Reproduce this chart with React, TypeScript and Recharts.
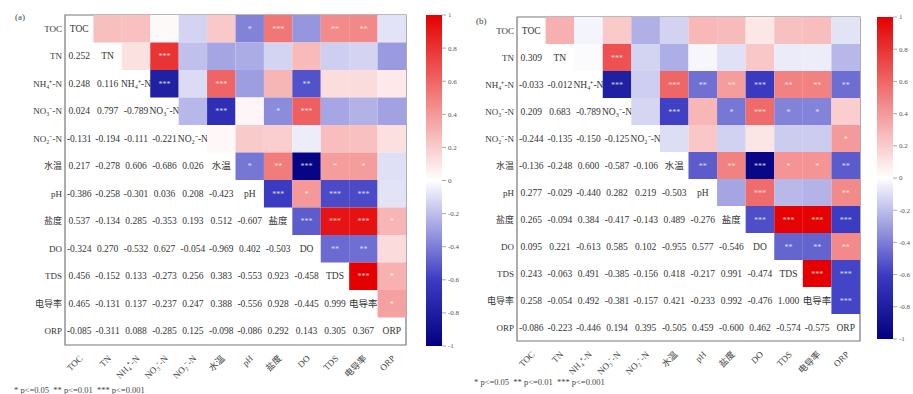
import React from 'react'
import { ScatterChart, Scatter, XAxis, YAxis, ReferenceArea, BarChart, Bar } from 'recharts'

const labels = ['TOC', 'TN', 'NH₄⁺-N', 'NO₃⁻-N', 'NO₂⁻-N', '水温', 'pH', '盐度', 'DO', 'TDS', '电导率', 'ORP']

// lower triangle, rows TN..ORP
const corrA = [
  [0.252],
  [0.248, 0.116],
  [0.024, 0.797, -0.789],
  [-0.131, -0.194, -0.111, -0.221],
  [0.217, -0.278, 0.606, -0.686, 0.026],
  [-0.386, -0.258, -0.301, 0.036, 0.208, -0.423],
  [0.537, -0.134, 0.285, -0.353, 0.193, 0.512, -0.607],
  [-0.324, 0.27, -0.532, 0.627, -0.054, -0.969, 0.402, -0.503],
  [0.456, -0.152, 0.133, -0.273, 0.256, 0.383, -0.553, 0.923, -0.458],
  [0.465, -0.131, 0.137, -0.237, 0.247, 0.388, -0.556, 0.928, -0.445, 0.999],
  [-0.085, -0.311, 0.088, -0.285, 0.125, -0.098, -0.086, 0.292, 0.143, 0.305, 0.367],
]
const sigA = [
  [''],
  ['', ''],
  ['', '***', '***'],
  ['', '', '', ''],
  ['', '', '***', '***', ''],
  ['*', '', '', '', '', '*'],
  ['***', '', '', '*', '', '**', '***'],
  ['', '', '**', '***', '', '***', '*', '***'],
  ['**', '', '', '', '', '*', '***', '***', '**'],
  ['**', '', '', '', '', '*', '***', '***', '**', '***'],
  ['', '', '', '', '', '', '', '*', '', '*', '*'],
]

const corrB = [
  [0.309],
  [-0.033, -0.012],
  [0.209, 0.683, -0.789],
  [-0.244, -0.135, -0.15, -0.125],
  [-0.136, -0.248, 0.6, -0.587, -0.106],
  [0.277, -0.029, -0.44, 0.282, 0.219, -0.503],
  [0.265, -0.094, 0.384, -0.417, -0.143, 0.489, -0.276],
  [0.095, 0.221, -0.613, 0.585, 0.102, -0.955, 0.577, -0.546],
  [0.243, -0.063, 0.491, -0.385, -0.156, 0.418, -0.217, 0.991, -0.474],
  [0.258, -0.054, 0.492, -0.381, -0.157, 0.421, -0.233, 0.992, -0.476, 1.0],
  [-0.086, -0.223, -0.446, 0.194, 0.395, -0.505, 0.459, -0.6, 0.462, -0.574, -0.575],
]
const sigB = [
  [''],
  ['', ''],
  ['', '***', '***'],
  ['', '', '', ''],
  ['', '', '***', '***', ''],
  ['', '', '**', '', '', '**'],
  ['', '', '**', '*', '', '**', ''],
  ['', '', '***', '***', '', '***', '***', '***'],
  ['', '', '**', '*', '', '*', '', '***', '**'],
  ['', '', '**', '*', '', '*', '', '***', '**', '***'],
  ['', '', '**', '', '*', '**', '**', '***', '**', '***', '***'],
]

const barTicks = [-1, -0.8, -0.6, -0.4, -0.2, 0, 0.2, 0.4, 0.6, 0.8, 1]
const legendText = '* p<=0.05  ** p<=0.01  *** p<=0.001'

const FONT = '"Liberation Serif", "Times New Roman", "Noto Sans CJK SC", serif'

function colorOf(v: number) {
  const stops: [number, number[]][] = [
    [-1, [0, 0, 128]],
    [-0.6, [60, 60, 195]],
    [0, [255, 255, 255]],
    [1, [228, 0, 0]],
  ]
  for (let k = 0; k < stops.length - 1; k++) {
    const [a, ca] = stops[k]
    const [b, cb] = stops[k + 1]
    if (v >= a && v <= b) {
      const t = (v - a) / (b - a)
      const c = ca.map((x, i) => Math.round(x + (cb[i] - x) * t))
      return `rgb(${c[0]},${c[1]},${c[2]})`
    }
  }
  return v < 0 ? 'rgb(0,0,128)' : 'rgb(228,0,0)'
}

function buildCells(corr: number[][], sig: string[][]) {
  const out: any[] = []
  for (let i = 0; i < labels.length; i++) {
    for (let j = 0; j < labels.length; j++) {
      if (i === j) out.push({ x: j, y: i, kind: 'diag', text: labels[i] })
      else if (j < i) out.push({ x: j, y: i, kind: 'val', v: corr[i - 1][j] })
      else out.push({ x: j, y: i, kind: 'cell', v: corr[j - 1][i], sig: sig[j - 1][i] })
    }
  }
  return out
}

const fmt = (v: number) => (v < 0 ? '-' : '') + Math.abs(v).toFixed(3)

function Panel({ corr, sig, left, width, plotL, plotT, plotR, plotB }: any) {
  const cw = (plotR - plotL) / 12
  const ch = (plotB - plotT) / 12
  const data = buildCells(corr, sig)
  const shape = (p: any) => {
    const { cx, cy, payload } = p
    if (payload.kind === 'cell') {
      return (
        <g>
          <rect x={cx - cw / 2} y={cy - ch / 2} width={cw} height={ch} fill={colorOf(payload.v)} />
          {payload.sig ? (
            <text x={cx} y={cy + 3} textAnchor="middle" fontSize={8} fill="#fff" fillOpacity={0.8} fontFamily={FONT}>
              {payload.sig}
            </text>
          ) : null}
        </g>
      )
    }
    const txt = payload.kind === 'diag' ? payload.text : fmt(payload.v)
    return (
      <text x={cx} y={cy + 3} textAnchor="middle" fontSize={9.5} fill="#333" fontFamily={FONT}>
        {txt}
      </text>
    )
  }
  const xTick = (p: any) => {
    const x = p.x + 4
    const y = plotB + 14
    return (
      <text x={x} y={y} textAnchor="end" fontSize={9} fill="#444" fontFamily={FONT} transform={`rotate(-45 ${x} ${y})`}>
        {labels[p.payload.value]}
      </text>
    )
  }
  const yTick = (p: any) => (
    <text x={plotL - left - 3} y={p.y + 3} textAnchor="end" fontSize={9} fill="#333" fontFamily={FONT}>
      {labels[p.payload.value]}
    </text>
  )
  return (
    <div style={{ position: 'absolute', left, top: 0 }}>
      <ScatterChart
        width={width}
        height={394}
        margin={{ top: plotT, right: left + width - plotR, bottom: 394 - plotB - 45, left: 0 }}
      >
        <XAxis
          dataKey="x"
          type="number"
          domain={[-0.5, 11.5]}
          ticks={[0, 1, 2, 3, 4, 5, 6, 7, 8, 9, 10, 11]}
          allowDataOverflow
          height={45}
          axisLine={false}
          tickLine={false}
          tick={xTick}
        />
        <YAxis
          dataKey="y"
          type="number"
          reversed
          domain={[-0.5, 11.5]}
          ticks={[0, 1, 2, 3, 4, 5, 6, 7, 8, 9, 10, 11]}
          allowDataOverflow
          width={plotL - left}
          axisLine={false}
          tickLine={false}
          tick={yTick}
        />
        <Scatter data={data} shape={shape} isAnimationActive={false} />
        <ReferenceArea x1={-0.5} x2={11.5} y1={-0.5} y2={11.5} fill="none" stroke="#777" strokeWidth={1.2} ifOverflow="visible" />
      </ScatterChart>
    </div>
  )
}

function ColorBar({ id, left, width, barT, barB, axisW }: any) {
  const barShape = (p: any) => (
    <g>
      <defs>
        <linearGradient id={id} x1="0" y1="1" x2="0" y2="0">
          {barTicks.map((t) => (
            <stop key={t} offset={`${((t + 1) / 2) * 100}%`} stopColor={colorOf(t)} />
          ))}
        </linearGradient>
      </defs>
      <rect x={p.x} y={p.y} width={p.width} height={p.height} fill={`url(#${id})`} />
    </g>
  )
  return (
    <div style={{ position: 'absolute', left, top: 0 }}>
      <BarChart
        width={width}
        height={394}
        data={[{ name: 'c', range: [-1, 1] }]}
        margin={{ top: barT, right: 0, bottom: 394 - barB, left: 0 }}
        barCategoryGap={0}
      >
        <XAxis dataKey="name" hide />
        <YAxis
          orientation="right"
          type="number"
          domain={[-1, 1]}
          ticks={barTicks}
          width={axisW}
          axisLine={false}
          tickSize={4}
          tickMargin={2}
          stroke="#aaa"
          tick={{ fontSize: 7, fill: '#555', fontFamily: FONT }}
        />
        <Bar dataKey="range" shape={barShape} isAnimationActive={false} />
      </BarChart>
    </div>
  )
}

const textStyle = (left: number, top: number, size: number): React.CSSProperties => ({
  position: 'absolute',
  left,
  top,
  fontSize: size,
  lineHeight: `${size}px`,
  fontFamily: FONT,
  color: '#444',
  whiteSpace: 'pre',
})

export default function App() {
  return (
    <div style={{ position: 'absolute', left: 0, top: 0, width: 913, height: 394, background: '#fff', overflow: 'hidden' }}>
      <Panel corr={corrA} sig={sigA} left={0} width={420} plotL={65} plotT={15} plotR={406} plotB={345} />
      <ColorBar id="gradA" left={426} width={52} barT={15} barB={346} axisW={36} />
      <Panel corr={corrB} sig={sigB} left={460} width={412} plotL={517} plotT={17} plotR={860} plotB={341} />
      <ColorBar id="gradB" left={877} width={52} barT={17} barB={339} axisW={36} />
      <div style={textStyle(15, 13, 9)}>(a)</div>
      <div style={textStyle(476, 17, 9)}>(b)</div>
      <div style={textStyle(14, 386, 8.5)}>{legendText}</div>
      <div style={textStyle(474, 378, 8.5)}>{legendText}</div>
    </div>
  )
}
